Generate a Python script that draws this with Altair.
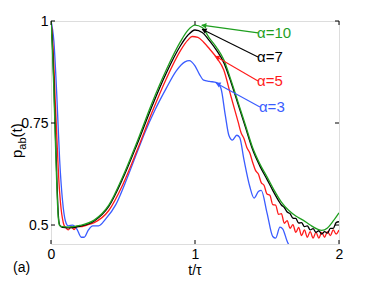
import altair as alt
import pandas as pd

# ---- data ----
blue_x = [0, 0.02, 0.04, 0.06, 0.08, 0.10, 0.12, 0.15, 0.18, 0.21, 0.23, 0.26, 0.29, 0.33, 0.38, 0.45, 0.514, 0.6, 0.65, 0.722, 0.8, 0.87, 0.93, 0.96, 1.0, 1.03, 1.06, 1.1, 1.15, 1.18, 1.21, 1.235, 1.26, 1.29, 1.31, 1.34, 1.38, 1.41, 1.44, 1.46, 1.50, 1.54, 1.56, 1.59, 1.61, 1.64, 1.67]
blue_y = [1.0, 0.95, 0.82, 0.66, 0.56, 0.51, 0.498, 0.5, 0.49, 0.47, 0.47, 0.488, 0.498, 0.498, 0.515, 0.55, 0.602, 0.68, 0.725, 0.782, 0.835, 0.878, 0.9, 0.903, 0.89, 0.87, 0.855, 0.852, 0.849, 0.835, 0.77, 0.72, 0.708, 0.72, 0.715, 0.66, 0.595, 0.566, 0.582, 0.585, 0.53, 0.472, 0.468, 0.495, 0.49, 0.46, 0.44]

red_x = [0, 0.01, 0.02, 0.03, 0.04, 0.05, 0.06, 0.07, 0.08, 0.09, 0.1, 0.12, 0.14, 0.16, 0.18, 0.2, 0.25, 0.3, 0.4, 0.5, 0.6, 0.7, 0.8, 0.9, 0.95, 0.98, 1.02, 1.06, 1.1, 1.15, 1.2, 1.25,
         1.30, 1.32, 1.34, 1.36, 1.38, 1.40, 1.42, 1.44, 1.46, 1.48, 1.50, 1.52, 1.54, 1.56, 1.58, 1.60, 1.62, 1.64, 1.66, 1.68, 1.70,
         1.72, 1.74, 1.76, 1.78, 1.80, 1.82, 1.84, 1.86, 1.88, 1.90, 1.92, 1.94, 1.96, 1.98, 2.00]
red_y = [1.0, 0.96, 0.89, 0.8, 0.72, 0.64, 0.58, 0.54, 0.515, 0.5, 0.495, 0.488, 0.496, 0.489, 0.497, 0.496, 0.5, 0.506, 0.535, 0.6, 0.685, 0.775, 0.858, 0.928, 0.953, 0.962, 0.96, 0.948, 0.932, 0.91, 0.88, 0.815,
         0.752, 0.726, 0.712, 0.690, 0.677, 0.654, 0.634, 0.625, 0.604, 0.597, 0.576, 0.573, 0.550, 0.549, 0.526, 0.528, 0.504, 0.511, 0.492, 0.501, 0.482,
         0.494, 0.474, 0.488, 0.470, 0.484, 0.468, 0.482, 0.468, 0.482, 0.470, 0.484, 0.474, 0.488, 0.478, 0.488]

black_x = [0, 0.01, 0.02, 0.03, 0.04, 0.05, 0.06, 0.08, 0.12, 0.2, 0.3, 0.4, 0.5, 0.6, 0.7, 0.8, 0.9, 0.95, 1.0, 1.05, 1.1, 1.15, 1.2, 1.25, 1.3, 1.35, 1.4, 1.45, 1.5,
           1.54, 1.58, 1.60, 1.62, 1.64, 1.66, 1.68, 1.70, 1.72, 1.74, 1.76, 1.78, 1.80, 1.82, 1.84, 1.86, 1.88, 1.90, 1.92, 1.94, 1.96, 1.98, 2.00]
black_y = [1.0, 0.94, 0.85, 0.73, 0.62, 0.53, 0.5, 0.494, 0.493, 0.497, 0.51, 0.545, 0.615, 0.7, 0.79, 0.872, 0.94, 0.965, 0.978, 0.972, 0.952, 0.928, 0.898, 0.85, 0.795, 0.74, 0.685, 0.645, 0.612,
           0.585, 0.560, 0.549, 0.543, 0.532, 0.528, 0.517, 0.516, 0.505, 0.506, 0.496, 0.498, 0.488, 0.491, 0.482, 0.486, 0.478, 0.484, 0.480, 0.492, 0.492, 0.506, 0.508]

green_x = [0, 0.01, 0.02, 0.03, 0.04, 0.05, 0.06, 0.08, 0.12, 0.2, 0.3, 0.4, 0.5, 0.6, 0.7, 0.8, 0.9, 0.95, 1.0, 1.05, 1.1, 1.15, 1.2, 1.25, 1.3, 1.35, 1.4, 1.45, 1.5, 1.55, 1.6, 1.65, 1.7, 1.75, 1.8, 1.85, 1.88, 1.92, 1.96, 2.0]
green_y = [1.0, 0.93, 0.83, 0.71, 0.6, 0.52, 0.499, 0.496, 0.495, 0.499, 0.512, 0.548, 0.62, 0.706, 0.798, 0.88, 0.95, 0.977, 0.99, 0.984, 0.958, 0.935, 0.905, 0.855, 0.80, 0.745, 0.69, 0.65, 0.618, 0.585, 0.556, 0.536, 0.522, 0.512, 0.5, 0.49, 0.487, 0.493, 0.51, 0.53]

labels = ["\u03b1=3", "\u03b1=5", "\u03b1=7", "\u03b1=10"]
colors = ["#3a5cff", "#ff1a1a", "#000000", "#1f9f1f"]
label_x = [1.451, 1.4375, 1.4375, 1.4375]
label_y = [0.789, 0.853, 0.912, 0.971]
tip_x = [1.146, 1.139, 1.049, 1.047]
tip_y = [0.848, 0.914, 0.980, 0.990]
head_x = [1.164, 1.157, 1.067, 1.067]
head_y = [0.845, 0.9105, 0.977, 0.9887]
head_angle = [296.6, 299, 296.6, 277]

x_ticks = [0, 1, 2]
y_ticks = [0.5, 0.75, 1]

W, H = 288, 223
FONT = "Liberation Sans"

xs = alt.Scale(domain=[0, 2], nice=False, zero=False)
ys = alt.Scale(domain=[0.4535, 1.0], nice=False, zero=False)

x_axis = alt.Axis(values=x_ticks, format="~g", grid=False, ticks=False, domain=False,
                  labelFontSize=14, labelFont=FONT, labelPadding=3, labelColor="black",
                  title="", labelFlush=False)
y_axis = alt.Axis(values=y_ticks, format=".2~f", grid=False, ticks=False, domain=False,
                  labelFontSize=14, labelFont=FONT, labelPadding=3, labelColor="black",
                  title="")


def X(field):
    return alt.X(field, scale=xs, axis=x_axis)


def Y(field):
    return alt.Y(field, scale=ys, axis=y_axis)


series = [(blue_x, blue_y, colors[0]), (red_x, red_y, colors[1]),
          (black_x, black_y, colors[2]), (green_x, green_y, colors[3])]

layers = []
for sx, sy, col in series:
    df = pd.DataFrame({"t": sx, "p": sy})
    layers.append(alt.Chart(df).mark_line(color=col, strokeWidth=1.3, clip=True,
                                          interpolate="monotone").encode(x=X("t:Q"), y=Y("p:Q")))

ann = pd.DataFrame({"label": labels, "color": colors, "lx": label_x, "ly": label_y,
                    "tx": tip_x, "ty": tip_y, "hx": head_x, "hy": head_y, "ang": head_angle})
cscale = alt.Scale(domain=colors, range=colors)

arrows = alt.Chart(ann).mark_rule(strokeWidth=1.1).encode(
    x=X("lx:Q"), y=Y("ly:Q"), x2="tx:Q", y2="ty:Q",
    color=alt.Color("color:N", scale=cscale, legend=None))
heads = alt.Chart(ann).mark_point(shape="triangle", filled=True, size=32, opacity=1).encode(
    x=X("hx:Q"), y=Y("hy:Q"),
    angle=alt.Angle("ang:Q", scale=None),
    color=alt.Color("color:N", scale=cscale, legend=None))
texts = alt.Chart(ann).mark_text(align="left", baseline="middle", font=FONT, fontSize=15, dx=-1).encode(
    x=X("lx:Q"), y=Y("ly:Q"), text="label:N",
    color=alt.Color("color:N", scale=cscale, legend=None))

xt = pd.DataFrame({"v": x_ticks})
yt = pd.DataFrame({"v": y_ticks})
tick_b = alt.Chart(xt).mark_rule(color="black", strokeWidth=1).encode(
    x=X("v:Q"), y=alt.value(H), y2=alt.value(H - 4))
tick_t = alt.Chart(xt).mark_rule(color="black", strokeWidth=1).encode(
    x=X("v:Q"), y=alt.value(0), y2=alt.value(4))
tick_l = alt.Chart(yt).mark_rule(color="black", strokeWidth=1).encode(
    y=Y("v:Q"), x=alt.value(0), x2=alt.value(4))
tick_r = alt.Chart(yt).mark_rule(color="black", strokeWidth=1).encode(
    y=Y("v:Q"), x=alt.value(W - 4), x2=alt.value(W))

one = pd.DataFrame({"a": [0]})


def txt(s, px, py, fs, angle=0, align="left"):
    return alt.Chart(one).mark_text(
        angle=angle, align=align, baseline="alphabetic", font=FONT, fontSize=fs,
        color="black", text=s).encode(x=alt.value(px), y=alt.value(py))


yt_p = txt("p", -29, 137, 15, 270)
yt_ab = txt("ab", -25, 128.7, 11, 270)
yt_t = txt("(t)", -29, 116.5, 15, 270)
xtitle = txt("t/\u03c4", W / 2, 254, 14, 0, "center")
panel = txt("(a)", -38, 251, 14)

chart = alt.layer(*layers, tick_b, tick_t, tick_l, tick_r, arrows, heads, texts,
                  yt_p, yt_ab, yt_t, xtitle, panel).properties(
    width=W, height=H,
    autosize=alt.AutoSizeParams(type="none"),
    padding={"left": 43, "top": 13, "right": 27, "bottom": 36},
).configure_view(stroke="black", strokeWidth=1.3).configure(background="white")

chart.save("out.html", embed_options={"renderer": "svg", "actions": False})
